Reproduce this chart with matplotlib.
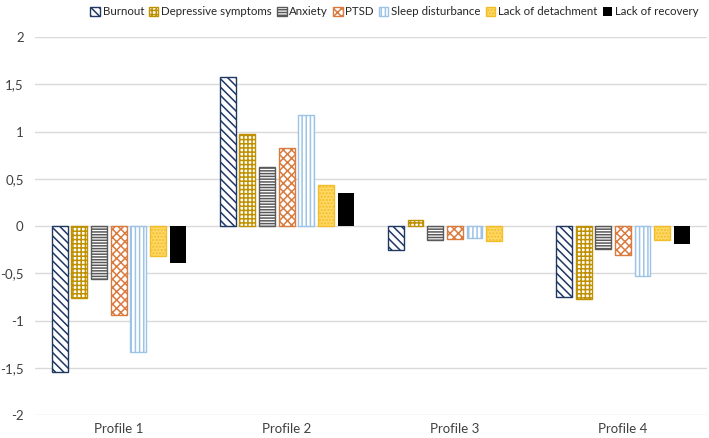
import matplotlib.pyplot as plt
import numpy as np

# Profile scores (standardised means) per outcome
profiles = ['Profile 1', 'Profile 2', 'Profile 3', 'Profile 4']
series = ['Burnout', 'Depressive symptoms', 'Anxiety', 'PTSD',
          'Sleep disturbance', 'Lack of detachment', 'Lack of recovery']

burnout = [-1.55, 1.58, -0.25, -0.75]
depressive = [-0.76, 0.97, 0.06, -0.77]
anxiety = [-0.56, 0.62, -0.15, -0.24]
ptsd = [-0.94, 0.83, -0.14, -0.31]
sleep = [-1.33, 1.17, -0.13, -0.53]
detachment = [-0.32, 0.43, -0.16, -0.15]
recovery = [-0.39, 0.35, 0.0, -0.19]

values = [burnout, depressive, anxiety, ptsd, sleep, detachment, recovery]

# face, edge/hatch colour, hatch, edge width
styles = [
    ('white', '#1F3864', '\\\\\\\\', 1.0),
    ('white', '#BF9000', '++++', 1.0),
    ('white', '#595959', '------', 1.0),
    ('white', '#D97B3F', 'xxxx', 1.0),
    ('white', '#9DC3E6', '||||', 1.0),
    ('#FFD966', '#F2BE2C', '.....', 1.0),
    ('black', 'black', None, 0),
]

plt.rcParams['font.family'] = ['Lato', 'DejaVu Sans']
plt.rcParams['hatch.linewidth'] = 1.1

fig = plt.figure(figsize=(7.09, 4.38), dpi=100)
ax = fig.add_axes([0.049, 0.0525, 0.948, 0.863])

x = np.arange(len(profiles))
step = 0.117
width = 0.095
for i, (name, vals) in enumerate(zip(series, values)):
    face, edge, hatch, lw = styles[i]
    offset = (i - 3) * step
    ax.bar(x + offset, vals, width, label=name, color=face, edgecolor=edge,
           hatch=hatch, linewidth=lw, zorder=3)

ax.set_xlim(-0.5, 3.5)
ax.set_ylim(-2, 2)
yt = [-2, -1.5, -1, -0.5, 0, 0.5, 1, 1.5, 2]
ax.set_yticks(yt)
ax.set_yticklabels([('%g' % v).replace('.', ',') for v in yt])
ax.set_xticks(x)
ax.set_xticklabels(profiles)
ax.tick_params(axis='both', length=0, labelsize=9.5, colors='#404040')
ax.tick_params(axis='y', pad=8)
ax.tick_params(axis='x', pad=6)

ax.grid(axis='y', color='#D9D9D9', linewidth=1.0, zorder=0)
for s in ax.spines.values():
    s.set_visible(False)

ax.legend(loc='center', bbox_to_anchor=(0.535, 1.067), ncol=7, frameon=False,
          fontsize=8.3, handlelength=0.8, handleheight=0.8, handletextpad=0.25,
          columnspacing=0.45, labelcolor='#262626')

fig.savefig('out.png', dpi=100)
